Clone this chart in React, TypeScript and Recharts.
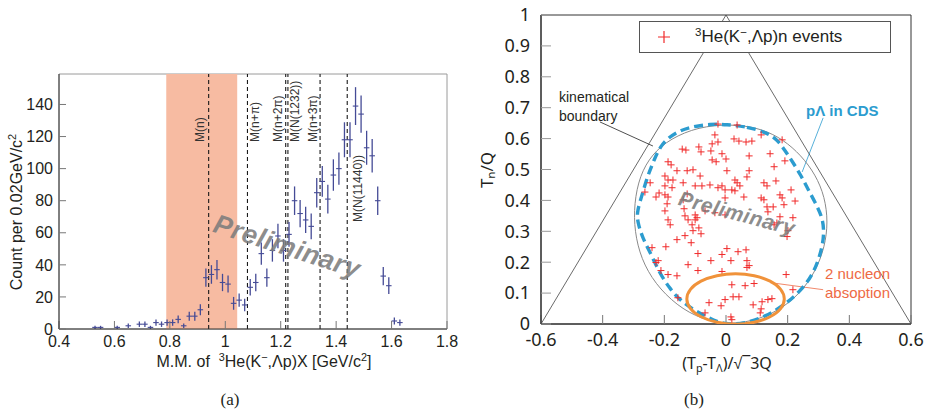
// -----------------------------------------------------------------------------
// MISSING MASS + DALITZ PLOT FIGURE
// (a) missing-mass histogram with threshold markers, (b) Dalitz-like event map.
// -----------------------------------------------------------------------------
import React from 'react';
import {
  ComposedChart,
  Scatter,
  XAxis,
  YAxis,
  ErrorBar,
  ReferenceArea,
  ReferenceLine,
  Legend,
} from 'recharts';

// ---- panel (a): missing mass spectrum -------------------------------------
const massBins = [
  0.53, 0.55, 0.61, 0.65, 0.69, 0.71, 0.73, 0.75, 0.77, 0.79, 0.81, 0.83, 0.85,
  0.87, 0.89, 0.91, 0.93, 0.95, 0.97, 0.99, 1.01, 1.03, 1.05, 1.07, 1.09, 1.11,
  1.13, 1.15, 1.17, 1.19, 1.21, 1.23, 1.25, 1.27, 1.29, 1.31, 1.33, 1.35, 1.37,
  1.39, 1.41, 1.43, 1.45, 1.47, 1.49, 1.51, 1.53, 1.55, 1.57, 1.59, 1.61, 1.63,
];
const counts = [
  1, 1, 1, 2, 3, 3, 1, 4, 3, 4, 4, 6, 2, 8, 8, 12, 32, 34, 37, 29, 28, 16, 18,
  15, 26, 29, 47, 32, 49, 58, 49, 59, 80, 72, 68, 64, 85, 92, 81, 96, 100, 118,
  118, 139, 134, 113, 108, 80, 33, 27, 5, 4,
];
const countErr = [
  1, 1, 1, 1.4, 1.7, 1.7, 1, 2, 1.7, 2, 2, 2.4, 1.4, 2.8, 2.8, 3.5, 5.7, 5.8,
  6.1, 5.4, 5.3, 4, 4.2, 3.9, 5.1, 5.4, 6.9, 5.7, 7, 7.6, 7, 7.7, 8.9, 8.5, 8.2,
  8, 9.2, 9.6, 9, 9.8, 10, 10.9, 10.9, 11.8, 11.6, 10.6, 10.4, 8.9, 5.7, 5.2,
  2.2, 2,
];
const binHalfWidth = 0.01;
const thresholds = [0.94, 1.08, 1.218, 1.226, 1.342, 1.44];
const thresholdNames = ['M(n)', 'M(n+π)', 'M(n+2π)', 'M(N(1232))', 'M(n+3π)', 'M(N(11440))'];
const qfBand = [0.787, 1.043];
const massDomain = [0.4, 1.8];
const countDomain = [0, 159];
const massTicks = [0.4, 0.6, 0.8, 1, 1.2, 1.4, 1.6, 1.8];
const massMinor = [
  0.4, 0.45, 0.5, 0.55, 0.6, 0.65, 0.7, 0.75, 0.8, 0.85, 0.9, 0.95, 1, 1.05, 1.1,
  1.15, 1.2, 1.25, 1.3, 1.35, 1.4, 1.45, 1.5, 1.55, 1.6, 1.65, 1.7, 1.75, 1.8,
];
const countTicks = [0, 20, 40, 60, 80, 100, 120, 140];
const countMinor = [
  5, 10, 15, 25, 30, 35, 45, 50, 55, 65, 70, 75, 85, 90, 95, 105, 110, 115, 125,
  130, 135, 145, 150, 155,
];

// ---- panel (b): event map --------------------------------------------------
const eventPts: [number, number][] = [
  [-0.026, 0.647], [-0.036, 0.612], [-0.026, 0.589], [-0.045, 0.583], [-0.142, 0.566],
  [-0.13, 0.563], [-0.088, 0.573], [-0.081, 0.557], [-0.049, 0.56], [-0.013, 0.551],
  [-0.045, 0.531], [-0.032, 0.525], [0.0, 0.534], [-0.188, 0.525], [-0.178, 0.515],
  [0.003, 0.496], [-0.107, 0.499], [-0.126, 0.496], [-0.159, 0.496], [-0.198, 0.479],
  [-0.188, 0.466], [-0.084, 0.479], [-0.172, 0.466], [-0.246, 0.457], [-0.139, 0.457],
  [-0.198, 0.447], [-0.175, 0.441], [-0.1, 0.447], [-0.078, 0.447], [-0.052, 0.45],
  [-0.013, 0.447], [-0.003, 0.434], [-0.026, 0.441], [-0.263, 0.427], [-0.217, 0.424],
  [-0.227, 0.411], [-0.198, 0.418], [-0.188, 0.411], [-0.126, 0.421], [-0.139, 0.402],
  [-0.191, 0.389], [-0.198, 0.366], [-0.136, 0.373], [-0.133, 0.35], [-0.1, 0.353],
  [-0.094, 0.344], [-0.068, 0.366], [-0.036, 0.36], [-0.188, 0.337], [-0.003, 0.353],
  [0.036, 0.644], [0.026, 0.599], [0.042, 0.592], [0.065, 0.589], [0.084, 0.592],
  [0.114, 0.612], [0.182, 0.596], [0.075, 0.544], [0.143, 0.551], [0.191, 0.528],
  [0.156, 0.509], [0.075, 0.496], [0.068, 0.476], [0.029, 0.466], [0.036, 0.457],
  [0.045, 0.447], [0.019, 0.434], [0.029, 0.431], [0.123, 0.457], [0.133, 0.447],
  [0.162, 0.463], [0.211, 0.434], [0.058, 0.411], [-0.003, 0.408], [0.114, 0.408],
  [0.123, 0.402], [0.175, 0.418], [0.182, 0.408], [0.224, 0.398], [0.133, 0.379],
  [0.153, 0.379], [0.188, 0.386], [0.136, 0.363], [0.175, 0.347], [0.217, 0.344],
  [-0.123, 0.337], [-0.1, 0.337], [-0.11, 0.321], [-0.088, 0.311], [-0.107, 0.302],
  [-0.081, 0.292], [-0.133, 0.286], [-0.181, 0.321], [-0.159, 0.273], [-0.113, 0.263],
  [-0.24, 0.247], [-0.195, 0.25], [-0.22, 0.205], [-0.227, 0.199], [-0.211, 0.173],
  [-0.188, 0.16], [-0.159, 0.156], [-0.123, 0.192], [-0.091, 0.228], [-0.091, 0.173],
  [-0.049, 0.205], [-0.013, 0.225], [0.003, 0.244], [-0.013, 0.17], [-0.156, 0.085],
  [-0.055, 0.069], [-0.016, 0.059], [-0.003, 0.079], [-0.068, 0.036],
  [0.165, 0.327], [0.156, 0.321], [0.201, 0.302], [0.198, 0.283], [0.039, 0.234],
  [0.065, 0.24], [0.016, 0.205], [0.068, 0.205], [0.075, 0.189], [0.068, 0.183],
  [0.195, 0.16], [0.019, 0.127], [0.062, 0.124], [0.091, 0.131], [0.217, 0.111],
  [0.023, 0.088], [0.042, 0.088], [0.088, 0.062], [0.117, 0.072], [0.136, 0.079],
  [0.149, 0.082], [0.114, 0.049], [0.111, 0.036], [0.016, 0.023], [0.019, 0.014],
];
// thin gray kinematical boundary, traced clockwise from the top
const kinBoundary: [number, number][] = [
  [0.015, 0.647], [0.1, 0.636], [0.17, 0.607], [0.23, 0.56], [0.28, 0.5], [0.315, 0.43],
  [0.33, 0.35], [0.325, 0.27], [0.3, 0.19], [0.255, 0.115], [0.19, 0.055], [0.11, 0.015],
  [0.015, -0.003], [-0.08, 0.015], [-0.16, 0.06], [-0.23, 0.13], [-0.275, 0.21],
  [-0.297, 0.3], [-0.298, 0.39], [-0.28, 0.48], [-0.24, 0.55], [-0.18, 0.6], [-0.09, 0.638],
];
// dashed acceptance contour (pΛ in CDS)
const cdsContour: [number, number][] = [
  [0.0, 0.646], [0.07, 0.638], [0.127, 0.621], [0.165, 0.599], [0.191, 0.562],
  [0.217, 0.523], [0.243, 0.481], [0.266, 0.436], [0.29, 0.392], [0.313, 0.344],
  [0.318, 0.3], [0.313, 0.247], [0.284, 0.16], [0.235, 0.1], [0.187, 0.06],
  [0.128, 0.024], [0.062, 0.002], [0.007, -0.002], [-0.038, 0.01], [-0.096, 0.04],
  [-0.151, 0.078], [-0.184, 0.117], [-0.216, 0.166], [-0.242, 0.224], [-0.271, 0.279],
  [-0.288, 0.334], [-0.288, 0.366], [-0.272, 0.418], [-0.256, 0.474], [-0.233, 0.532],
  [-0.21, 0.582], [-0.166, 0.62], [-0.11, 0.639], [-0.05, 0.647],
];
// two-nucleon absorption region
const twoNucleon: [number, number][] = [
  [0.193, 0.081], [0.181, 0.113], [0.146, 0.14], [0.093, 0.158], [0.031, 0.165],
  [-0.031, 0.158], [-0.084, 0.14], [-0.119, 0.113], [-0.131, 0.081], [-0.119, 0.049],
  [-0.084, 0.022], [-0.031, 0.004], [0.031, -0.003], [0.093, 0.004], [0.146, 0.022],
  [0.181, 0.049],
];
const kinTriangle: [number, number][] = [[-0.6, 0], [0, 1], [0.6, 0]];
const dalitzXDomain = [-0.6, 0.6];
const dalitzYDomain = [0, 1];
const dalitzXTicks = [-0.6, -0.4, -0.2, 0, 0.2, 0.4, 0.6];
const dalitzXMinor = [
  -0.6, -0.55, -0.5, -0.45, -0.4, -0.35, -0.3, -0.25, -0.2, -0.15, -0.1, -0.05, 0,
  0.05, 0.1, 0.15, 0.2, 0.25, 0.3, 0.35, 0.4, 0.45, 0.5, 0.55, 0.6,
];
const dalitzYTicks = [0, 0.1, 0.2, 0.3, 0.4, 0.5, 0.6, 0.7, 0.8, 0.9, 1];
const dalitzYMinor = [
  0.05, 0.15, 0.25, 0.35, 0.45, 0.55, 0.65, 0.75, 0.85, 0.95,
];

const toXY = (pts: [number, number][]) => pts.map(([x, y]) => ({ x, y }));
const massTable = massBins.map((x, i) => ({ x, y: counts[i], ey: countErr[i], ex: binHalfWidth }));

// -----------------------------------------------------------------------------
// SMALL HELPERS
// -----------------------------------------------------------------------------
const SANS = '"Liberation Sans", Arial, sans-serif';
const WIDE = '"Noto Sans", "Liberation Sans", sans-serif';
const RED = '#f02a2a';
const BLUE = '#2c9ccf';
const ORANGE = '#f0923a';

const Hidden = () => <g />;

const Cross = (p: any) =>
  p.cx == null ? (
    <g />
  ) : (
    <path
      d={`M${p.cx - 3.5} ${p.cy}H${p.cx + 3.5}M${p.cx} ${p.cy - 3.5}V${p.cy + 3.5}`}
      stroke={RED}
      strokeWidth={1}
    />
  );

type TagProps = {
  x: number;
  y: number;
  size: number;
  color?: string;
  rotate?: number;
  anchor?: 'left' | 'center';
  style?: React.CSSProperties;
  children: React.ReactNode;
};

// absolutely positioned text, centred vertically on y
const Tag = ({ x, y, size, color = '#231f20', rotate = 0, anchor = 'center', style, children }: TagProps) => (
  <div
    style={{
      position: 'absolute',
      left: x,
      top: y,
      fontSize: size,
      color,
      lineHeight: 1,
      whiteSpace: 'nowrap',
      transform: `translate(${anchor === 'left' ? '0' : '-50%'}, -50%) rotate(${rotate}deg)`,
      transformOrigin: anchor === 'left' ? 'left center' : 'center center',
      ...style,
    }}
  >
    {children}
  </div>
);

const sup: React.CSSProperties = { fontSize: '0.68em', verticalAlign: '0.55em', lineHeight: 0 };
const sub: React.CSSProperties = { fontSize: '0.68em', verticalAlign: '-0.25em', lineHeight: 0 };

// rotated threshold label beside a dashed reference line
const lineTag = (text: string, dx: number, drop: number) => (props: any) => {
  const vb = props.viewBox || { x: 0, y: 0 };
  const x = vb.x + dx;
  const y = vb.y + drop;
  return (
    <text
      x={x}
      y={y}
      transform={`rotate(-90 ${x} ${y})`}
      fontSize={12}
      fill="#333"
      dominantBaseline="central"
    >
      {text}
    </text>
  );
};

// -----------------------------------------------------------------------------
// PANEL (a)
// -----------------------------------------------------------------------------
const MassPanel = () => {
  const tagDx = [-9, 7.5, -7.5, 7.5, -7, 11];
  const tagDrop = [68, 68, 68, 68, 68, 148];
  return (
    <ComposedChart
      width={463}
      height={413}
      margin={{ top: 74, right: 16, bottom: 82, left: 57 }}
      style={{ position: 'absolute', left: 0, top: 0 }}
    >
      <XAxis
        dataKey="x"
        type="number"
        domain={massDomain}
        ticks={massTicks}
        interval={0}
        allowDataOverflow
        height={1}
        tickSize={-8}
        tickMargin={15}
        tickLine={{ stroke: '#777' }}
        axisLine={{ stroke: '#333' }}
        tick={{ fontSize: 16, fill: '#231f20' }}
      />
      <XAxis
        xAxisId="minor"
        type="number"
        domain={massDomain}
        ticks={massMinor}
        interval={0}
        allowDataOverflow
        height={1}
        tickSize={-5}
        tick={false}
        axisLine={false}
        tickLine={{ stroke: '#888' }}
      />
      <YAxis
        dataKey="y"
        type="number"
        domain={countDomain}
        ticks={countTicks}
        interval={0}
        allowDataOverflow
        width={1}
        tickSize={-7}
        tickMargin={13}
        tickLine={{ stroke: '#777' }}
        axisLine={{ stroke: '#333' }}
        tick={{ fontSize: 16, fill: '#231f20' }}
      />
      <YAxis
        yAxisId="minor"
        type="number"
        domain={countDomain}
        ticks={countMinor}
        interval={0}
        allowDataOverflow
        width={1}
        tickSize={-4}
        tick={false}
        axisLine={false}
        tickLine={{ stroke: '#888' }}
      />
      <ReferenceArea
        x1={massDomain[0]}
        x2={massDomain[1]}
        y1={countDomain[0]}
        y2={countDomain[1]}
        fill="none"
        stroke="#9a9a9a"
        fillOpacity={0}
      />
      <ReferenceArea x1={qfBand[0]} x2={qfBand[1]} y1={countDomain[0]} y2={countDomain[1]} fill="#f7bba2" fillOpacity={1} stroke="none" />
      {thresholds.map((t, i) => (
        <ReferenceLine
          key={thresholdNames[i]}
          x={t}
          stroke="#1a1a1a"
          strokeWidth={1.1}
          strokeDasharray="4 3"
          label={lineTag(thresholdNames[i], tagDx[i], tagDrop[i])}
        />
      ))}
      <Scatter data={massTable} shape={Hidden} isAnimationActive={false}>
        <ErrorBar dataKey="ey" direction="y" width={0} stroke="#454b96" strokeWidth={1.3} isAnimationActive={false} />
        <ErrorBar dataKey="ex" direction="x" width={0} stroke="#454b96" strokeWidth={1.1} isAnimationActive={false} />
      </Scatter>
    </ComposedChart>
  );
};

// -----------------------------------------------------------------------------
// PANEL (b)
// -----------------------------------------------------------------------------
const EventLegend = () => (
  <div
    style={{
      boxSizing: 'border-box',
      width: 252,
      height: 32,
      border: '1px solid #555',
      background: '#fff',
      position: 'relative',
      fontFamily: SANS,
    }}
  >
    <svg width={14} height={14} style={{ position: 'absolute', left: 17, top: 8 }}>
      <path d="M1 7H13M7 1V13" stroke={RED} strokeWidth={1.2} />
    </svg>
    <div style={{ position: 'absolute', left: 55, top: 6, fontSize: 17, lineHeight: 1, color: '#231f20', whiteSpace: 'nowrap' }}>
      <span style={sup}>3</span>He(K<span style={sup}>−</span>,Λp)n events
    </div>
  </div>
);

const DalitzPanel = () => (
  <ComposedChart
    width={463}
    height={413}
    margin={{ top: 15, right: 15, bottom: 87, left: 76 }}
    style={{ position: 'absolute', left: 463, top: 0, fontFamily: WIDE }}
  >
    <XAxis
      dataKey="x"
      type="number"
      domain={dalitzXDomain}
      ticks={dalitzXTicks}
      interval={0}
      allowDataOverflow
      height={1}
      tickSize={-9}
      tickMargin={18}
      tickLine={{ stroke: '#777' }}
      axisLine={{ stroke: '#222' }}
      tick={{ fontSize: 18, fill: '#231f20' }}
    />
    <XAxis
      xAxisId="minor"
      type="number"
      domain={dalitzXDomain}
      ticks={dalitzXMinor}
      interval={0}
      allowDataOverflow
      height={1}
      tickSize={-6}
      tick={false}
      axisLine={false}
      tickLine={{ stroke: '#888' }}
    />
    <YAxis
      dataKey="y"
      type="number"
      domain={dalitzYDomain}
      ticks={dalitzYTicks}
      interval={0}
      allowDataOverflow
      width={1}
      tickSize={-10}
      tickMargin={21}
      tickLine={{ stroke: '#999' }}
      axisLine={{ stroke: '#222' }}
      tick={{ fontSize: 18, fill: '#231f20' }}
    />
    <YAxis
      yAxisId="minor"
      type="number"
      domain={dalitzYDomain}
      ticks={dalitzYMinor}
      interval={0}
      allowDataOverflow
      width={1}
      tickSize={-6}
      tick={false}
      axisLine={false}
      tickLine={{ stroke: '#aaa' }}
    />
    <ReferenceArea
      x1={dalitzXDomain[0]}
      x2={dalitzXDomain[1]}
      y1={dalitzYDomain[0]}
      y2={dalitzYDomain[1]}
      fill="none"
      fillOpacity={0}
      stroke="#333"
    />
    <Scatter
      data={toXY(kinTriangle)}
      shape={Hidden}
      line={{ stroke: '#444', strokeWidth: 0.8 }}
      lineJointType="linear"
      isAnimationActive={false}
    />
    <Scatter
      data={toXY(kinBoundary)}
      shape={Hidden}
      line={{ stroke: '#8a8a8a', strokeWidth: 1 }}
      lineJointType="basisClosed"
      isAnimationActive={false}
    />
    <Scatter
      data={toXY(cdsContour)}
      shape={Hidden}
      line={{ stroke: BLUE, strokeWidth: 3.4, strokeDasharray: '9 5' }}
      lineJointType="basisClosed"
      isAnimationActive={false}
    />
    <Scatter data={toXY(eventPts)} shape={Cross} isAnimationActive={false} />
    <Scatter
      data={toXY(twoNucleon)}
      shape={Hidden}
      line={{ stroke: ORANGE, strokeWidth: 3 }}
      lineJointType="basisClosed"
      isAnimationActive={false}
    />
    <ReferenceLine segment={[{ x: -0.409, y: 0.654 }, { x: -0.237, y: 0.576 }]} stroke="#222" strokeWidth={0.8} />
    <ReferenceLine segment={[{ x: 0.315, y: 0.667 }, { x: 0.247, y: 0.492 }]} stroke={BLUE} strokeWidth={0.8} />
    <ReferenceLine segment={[{ x: 0.315, y: 0.111 }, { x: 0.143, y: 0.134 }]} stroke="#ee6a45" strokeWidth={0.8} />
    <Legend
      layout="vertical"
      align="center"
      verticalAlign="middle"
      content={() => <EventLegend />}
      wrapperStyle={{ left: 176, top: 21, width: 252, height: 32 }}
    />
  </ComposedChart>
);

// -----------------------------------------------------------------------------
// MAIN COMPONENT
// -----------------------------------------------------------------------------
const App = () => {
  const watermark: React.CSSProperties = {
    fontWeight: 700,
    fontStyle: 'italic',
    color: 'rgba(125,125,125,0.88)',
    letterSpacing: 0.5,
  };
  return (
    <div
      style={{
        position: 'absolute',
        left: 0,
        top: 0,
        width: 926,
        height: 413,
        background: '#fff',
        fontFamily: SANS,
        overflow: 'hidden',
      }}
    >
      <MassPanel />
      <DalitzPanel />

      {/* panel (a) titles */}
      <Tag x={17} y={212} size={16} rotate={-90}>
        Count per 0.02GeV/c<span style={sup}>2</span>
      </Tag>
      <Tag x={264} y={362} size={16}>
        M.M. of &nbsp;<span style={sup}>3</span>He(K<span style={sup}>−</span>,Λp)X [GeV/c<span style={sup}>2</span>]
      </Tag>
      <Tag x={287} y={247} size={27} rotate={18} style={watermark}>
        Preliminary
      </Tag>
      <Tag x={230} y={399} size={17} style={{ fontFamily: '"Liberation Serif", "Times New Roman", serif' }}>
        (a)
      </Tag>

      {/* panel (b) titles and annotations */}
      <Tag x={486} y={170} size={17} rotate={-90} style={{ fontFamily: WIDE }}>
        T<span style={sub}>n</span>/Q
      </Tag>
      <Tag x={727} y={363} size={16} style={{ fontFamily: WIDE }}>
        (T<span style={sub}>p</span>-T<span style={sub}>Λ</span>)/√‾3Q
      </Tag>
      <Tag x={559} y={97} size={14} anchor="left">
        kinematical
      </Tag>
      <Tag x={559} y={116} size={14} anchor="left">
        boundary
      </Tag>
      <Tag x={806} y={110} size={15} anchor="left" color={BLUE} style={{ fontWeight: 700 }}>
        pΛ in CDS
      </Tag>
      <Tag x={825} y={273} size={15} anchor="left" color="#ee6a45">
        2 nucleon
      </Tag>
      <Tag x={825} y={292} size={15} anchor="left" color="#ee6a45">
        absoption
      </Tag>
      <Tag x={737} y={213} size={21} rotate={15} style={watermark}>
        Preliminary
      </Tag>
      <Tag x={694} y={399} size={17} style={{ fontFamily: '"Liberation Serif", "Times New Roman", serif' }}>
        (b)
      </Tag>
    </div>
  );
};

export default App;
